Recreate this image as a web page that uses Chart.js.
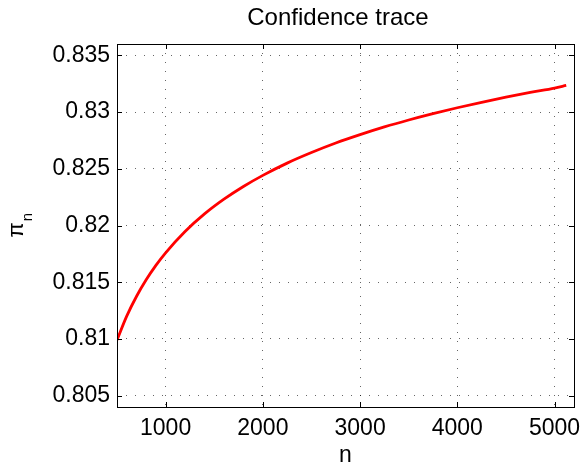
<!DOCTYPE html>
<html>
<head>
<meta charset="utf-8">
<script src="https://cdn.jsdelivr.net/npm/chart.js@4.4.0/dist/chart.umd.min.js"></script>
<style>
  body { margin: 0; background: #fff; }
  canvas { display: block; }
</style>
</head>
<body>
<canvas id="myChart" width="586" height="465"></canvas>
<script>
const nValues = [500, 600, 700, 800, 900, 1000, 1200, 1400, 1600, 1800, 2000,
    2250, 2500, 2750, 3000, 3250, 3500, 3750, 4000, 4250, 4500, 4750, 5000, 5120];
const piValues = [0.80990, 0.81201, 0.81374, 0.81521, 0.81648, 0.81759, 0.81947,
    0.82102, 0.82232, 0.82344, 0.82442, 0.82550, 0.82643, 0.82727, 0.82801,
    0.82869, 0.82930, 0.82986, 0.83038, 0.83086, 0.83131, 0.83173, 0.83212, 0.83235];

const xTickValues = [1000, 2000, 3000, 4000, 5000];
const yTickValues = [0.805, 0.81, 0.815, 0.82, 0.825, 0.83, 0.835];
const xMin = 500, xMax = 5200;
const yMin = 0.804, yMax = 0.836;

const FONT = '"Liberation Sans", Arial, Helvetica, sans-serif';
Chart.defaults.font.family = FONT;
Chart.defaults.color = '#000';

// matlab-ish box with inward ticks, title and the pi_n label
const boxPlugin = {
    id: 'matlabBox',
    afterDatasetsDraw(chart) {
        const { ctx, chartArea: a, scales: { x, y } } = chart;
        ctx.save();
        ctx.strokeStyle = '#000';
        ctx.lineWidth = 1;
        ctx.strokeRect(a.left + 0.5, a.top + 0.5, a.right - a.left, a.bottom - a.top);
        ctx.beginPath();
        x.ticks.forEach(t => {
            const px = Math.round(x.getPixelForValue(t.value)) + 0.5;
            ctx.moveTo(px, a.bottom); ctx.lineTo(px, a.bottom - 5);
            ctx.moveTo(px, a.top); ctx.lineTo(px, a.top + 5);
        });
        y.ticks.forEach(t => {
            const py = Math.round(y.getPixelForValue(t.value)) + 0.5;
            ctx.moveTo(a.left, py); ctx.lineTo(a.left + 5, py);
            ctx.moveTo(a.right, py); ctx.lineTo(a.right - 5, py);
        });
        ctx.stroke();
        ctx.restore();
    },
    afterDraw(chart) {
        const { ctx, chartArea: a } = chart;
        ctx.save();
        ctx.fillStyle = '#000';
        ctx.textBaseline = 'alphabetic';
        // title
        ctx.font = '24px ' + FONT;
        ctx.textAlign = 'center';
        ctx.fillText('Confidence trace', 338, 25);
        // y label: pi with subscript n
        ctx.textAlign = 'left';
        ctx.translate(23, (a.top + a.bottom) / 2 + 12);
        ctx.rotate(-Math.PI / 2);
        ctx.font = '22px ' + FONT;
        ctx.fillText('π', 0, 0);
        const w = ctx.measureText('π').width;
        ctx.font = '15px ' + FONT;
        ctx.fillText('n', w + 1, 9);
        ctx.restore();
    }
};

const data = {
    datasets: [{
        data: nValues.map((n, i) => ({ x: n, y: piValues[i] })),
        borderColor: '#ff0000',
        borderWidth: 2.8,
        pointRadius: 0,
        fill: false,
        cubicInterpolationMode: 'monotone'
    }]
};

const config = {
    type: 'line',
    data: data,
    options: {
        responsive: false,
        animation: false,
        devicePixelRatio: 1,
        layout: { padding: { top: 44, right: 12, left: 0, bottom: 0 } },
        plugins: {
            legend: { display: false },
            tooltip: { enabled: false },
            title: { display: false }
        },
        scales: {
            x: {
                type: 'linear',
                min: xMin,
                max: xMax,
                afterBuildTicks: (scale) => { scale.ticks = xTickValues.map(v => ({ value: v })); },
                afterFit: (scale) => {
                    scale.height = 58;
                    scale.paddingLeft = 0;
                    scale.paddingRight = 0;
                },
                border: { display: false, dash: [1, 8] },
                grid: {
                    color: 'rgba(0,0,0,0.6)',
                    drawTicks: false
                },
                ticks: {
                    autoSkip: false,
                    maxRotation: 0,
                    padding: 8,
                    font: { size: 23 },
                    callback: (v) => String(v)
                },
                title: {
                    display: true,
                    text: 'n',
                    font: { size: 23, lineHeight: 0.85 },
                    padding: { top: 0, bottom: 0 }
                }
            },
            y: {
                min: yMin,
                max: yMax,
                afterBuildTicks: (scale) => { scale.ticks = yTickValues.map(v => ({ value: v })); },
                afterFit: (scale) => { scale.width = 117; },
                border: { display: false, dash: [1, 8] },
                grid: {
                    color: 'rgba(0,0,0,0.6)',
                    drawTicks: false
                },
                ticks: {
                    autoSkip: false,
                    padding: 7,
                    font: { size: 23 },
                    callback: (v) => String(Number(v.toFixed(3)))
                }
            }
        }
    },
    plugins: [boxPlugin]
};

const myChart = new Chart(document.getElementById('myChart'), config);
</script>
</body>
</html>
